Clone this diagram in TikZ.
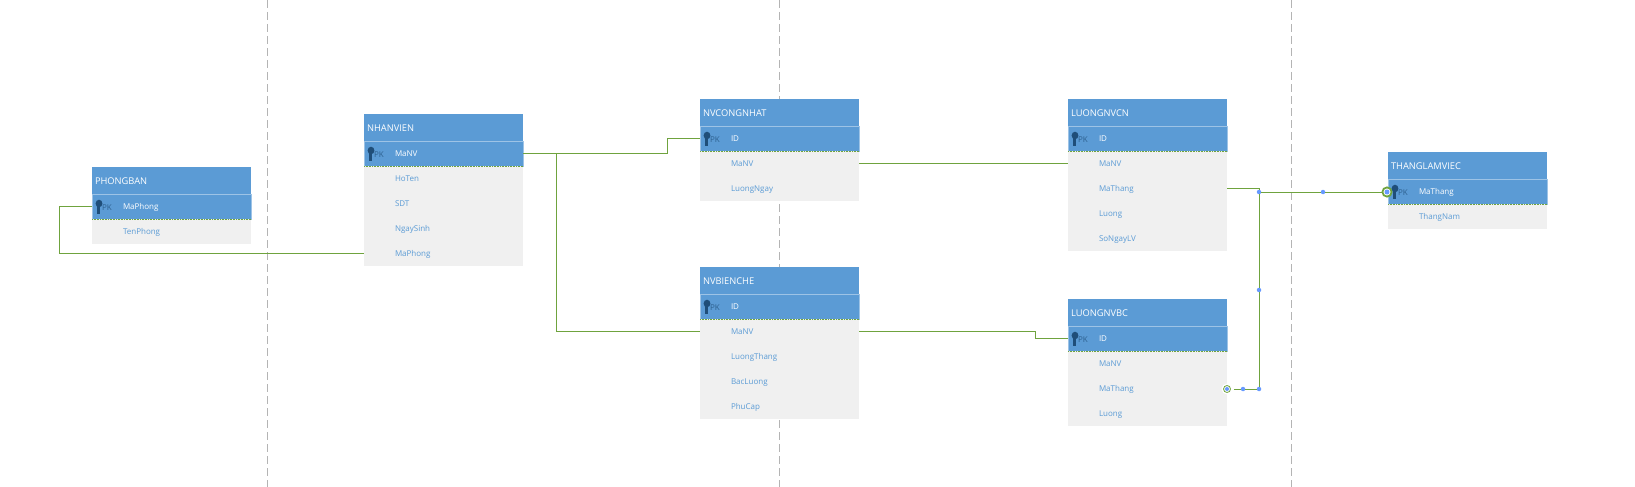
\documentclass[tikz,border=0pt]{standalone}
\usepackage{fontspec}
\setmainfont{Open Sans}
\usetikzlibrary{positioning}
\definecolor{tablehead}{HTML}{5B9BD5}
\definecolor{tablebody}{HTML}{F0F0F0}
\definecolor{tableedge}{HTML}{9DC3E6}
\definecolor{tablekey}{HTML}{1F4E79}
\definecolor{relgreen}{HTML}{6FA33E}
\definecolor{dotblue}{HTML}{6699FF}
\definecolor{guidegray}{HTML}{B4B4B4}

\begin{document}
\begin{tikzpicture}[x=1pt, y=-1pt,
                    headbox/.style={fill=tablehead, text=white, anchor=north west, minimum height=27.5pt,
                                    text width=153pt, text height=6.5pt, text depth=0pt,
                                    inner xsep=3pt, inner ysep=0pt, outer sep=0pt, align=left,
                                    font=\fontsize{9.3}{10}\selectfont},
                    pkbox/.style={fill=tablehead, draw=tableedge, line width=0.7pt, text=white, below=0pt of #1,
                                  minimum height=24.8pt, text width=159pt, text height=6pt, text depth=0pt,
                                  inner sep=0pt, outer sep=0pt, align=left,
                                  font=\fontsize{8}{10}\selectfont, execute at begin node={\hspace*{31pt}}},
                    rowbox/.style={fill=tablebody, text=tablehead, below=0pt of #1,
                                   minimum height=24.8pt, text width=159pt, text height=6pt, text depth=0pt,
                                   inner sep=0pt, outer sep=0pt, align=left,
                                   font=\fontsize{8}{10}\selectfont, execute at begin node={\hspace*{31pt}}},
                    rel/.style={relgreen, line width=0.9pt},
                    pkedge/.style={relgreen, line width=0.6pt, densely dotted},
                    guide/.style={guidegray, line width=0.8pt, dash pattern=on 8pt off 4pt},
                    dot/.style={circle, fill=dotblue, inner sep=0pt, minimum size=4.5pt},
                    endbig/.style={circle, fill=white, draw=relgreen, line width=1.8pt, inner sep=0pt, minimum size=9.2pt},
                    endsmall/.style={circle, fill=white, draw=relgreen, line width=0.8pt, inner sep=0pt, minimum size=7pt},
                    keymark/.pic={
                      \fill[tablekey] (7,-3.4) ellipse (3.4 and 3.8);
                      \fill[tablekey] (5.4,-3) rectangle (8.2,7);
                      \node[tablekey, opacity=0.75, inner sep=0pt, font=\fontsize{8}{10}\selectfont] at (15,0.5) {PK};
                    }]

  \useasboundingbox (0,0) rectangle (1635,487);

  %% dashed page breaks
  \foreach \xpos in {267,779,1291}
    \draw[guide] (\xpos,0) -- (\xpos,487);

  %% PHONGBAN
  \node[headbox] (phongban) at (92,167) {PHONGBAN};
  \node[pkbox=phongban] (phongbanMaPhong) {MaPhong};
  \node[rowbox=phongbanMaPhong] (phongbanTenPhong) {TenPhong};
  \pic at (phongbanMaPhong.west) {keymark};
  \draw[pkedge] (phongbanMaPhong.south west) -- (phongbanMaPhong.south east);

  %% NHANVIEN
  \node[headbox] (nhanvien) at (364,114) {NHANVIEN};
  \node[pkbox=nhanvien] (nhanvienMaNV) {MaNV};
  \node[rowbox=nhanvienMaNV] (nhanvienHoTen) {HoTen};
  \node[rowbox=nhanvienHoTen] (nhanvienSDT) {SDT};
  \node[rowbox=nhanvienSDT] (nhanvienNgaySinh) {NgaySinh};
  \node[rowbox=nhanvienNgaySinh] (nhanvienMaPhong) {MaPhong};
  \pic at (nhanvienMaNV.west) {keymark};
  \draw[pkedge] (nhanvienMaNV.south west) -- (nhanvienMaNV.south east);

  %% NVCONGNHAT
  \node[headbox] (congnhat) at (700,99) {NVCONGNHAT};
  \node[pkbox=congnhat] (congnhatID) {ID};
  \node[rowbox=congnhatID] (congnhatMaNV) {MaNV};
  \node[rowbox=congnhatMaNV] (congnhatLuongNgay) {LuongNgay};
  \pic at (congnhatID.west) {keymark};
  \draw[pkedge] (congnhatID.south west) -- (congnhatID.south east);

  %% NVBIENCHE
  \node[headbox] (bienche) at (700,267) {NVBIENCHE};
  \node[pkbox=bienche] (biencheID) {ID};
  \node[rowbox=biencheID] (biencheMaNV) {MaNV};
  \node[rowbox=biencheMaNV] (biencheLuongThang) {LuongThang};
  \node[rowbox=biencheLuongThang] (biencheBacLuong) {BacLuong};
  \node[rowbox=biencheBacLuong] (bienchePhuCap) {PhuCap};
  \pic at (biencheID.west) {keymark};
  \draw[pkedge] (biencheID.south west) -- (biencheID.south east);

  %% LUONGNVCN
  \node[headbox] (luongcn) at (1068,99) {LUONGNVCN};
  \node[pkbox=luongcn] (luongcnID) {ID};
  \node[rowbox=luongcnID] (luongcnMaNV) {MaNV};
  \node[rowbox=luongcnMaNV] (luongcnMaThang) {MaThang};
  \node[rowbox=luongcnMaThang] (luongcnLuong) {Luong};
  \node[rowbox=luongcnLuong] (luongcnSoNgayLV) {SoNgayLV};
  \pic at (luongcnID.west) {keymark};
  \draw[pkedge] (luongcnID.south west) -- (luongcnID.south east);

  %% LUONGNVBC
  \node[headbox] (luongbc) at (1068,299) {LUONGNVBC};
  \node[pkbox=luongbc] (luongbcID) {ID};
  \node[rowbox=luongbcID] (luongbcMaNV) {MaNV};
  \node[rowbox=luongbcMaNV] (luongbcMaThang) {MaThang};
  \node[rowbox=luongbcMaThang] (luongbcLuong) {Luong};
  \pic at (luongbcID.west) {keymark};
  \draw[pkedge] (luongbcID.south west) -- (luongbcID.south east);

  %% THANGLAMVIEC
  \node[headbox] (thang) at (1388,152) {THANGLAMVIEC};
  \node[pkbox=thang] (thangMaThang) {MaThang};
  \node[rowbox=thangMaThang] (thangThangNam) {ThangNam};
  \pic at (thangMaThang.west) {keymark};
  \draw[pkedge] (thangMaThang.south west) -- (thangMaThang.south east);

  %% bends of the relations
  \coordinate (phongbanbend) at (59.5,207);
  \coordinate (nhanvienbend) at (667,154);
  \coordinate (branchbend) at (556,154);
  \coordinate (luongbcbend) at (1035.5,331);

  %% PHONGBAN, NHANVIEN and the two staff tables
  \draw[rel] (phongbanMaPhong.west) -- (phongbanMaPhong.west -| phongbanbend) |- (nhanvienMaPhong.west);
  \draw[rel] (nhanvienMaNV.east) -- (nhanvienMaNV.east -| nhanvienbend) |- (congnhatID.west);
  \draw[rel] (nhanvienMaNV.east -| branchbend) |- (biencheMaNV.west);

  %% staff tables to salary tables
  \draw[rel] (congnhatMaNV.east) -- (luongcnMaNV.west);
  \draw[rel] (biencheMaNV.east) -- (biencheMaNV.east -| luongbcbend) |- (luongbcID.west);

  %% salary tables to THANGLAMVIEC
  \node[dot] (joint) at (1259,192) {};
  \node[dot] (midthang) at (1323,192) {};
  \node[dot] (midupright) at (1259,290) {};
  \node[dot] (cornerbc) at (1259,389) {};
  \node[dot] (midbc) at (1243,389) {};
  \node[circle, fill=white, inner sep=0pt, minimum size=11pt] (haloB) at (1227,389) {};
  \node[endsmall] (endbc) at (1227,389) {};
  \node[dot, minimum size=4pt] (endbcdot) at (1227,389) {};
  \node[endbig] (endthang) at (1387,192) {};
  \node[dot, minimum size=5pt] (endthangdot) at (1387,192) {};

  \draw[rel] (luongcnMaThang.east) -| (joint);
  \draw[rel] (joint) -- (midthang);
  \draw[rel] (midthang) -- (endthang);
  \draw[rel, shorten <=3pt] (endbc) -- (midbc);
  \draw[rel] (midbc) -- (cornerbc);
  \draw[rel] (cornerbc) -- (midupright);
  \draw[rel] (midupright) -- (joint);

\end{tikzpicture}
\end{document}
